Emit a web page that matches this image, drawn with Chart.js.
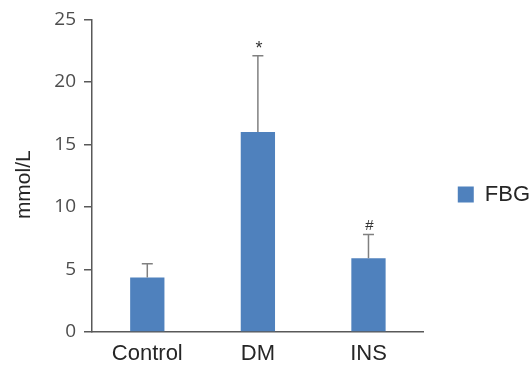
<!DOCTYPE html>
<html>
<head>
<meta charset="utf-8">
<script src="https://cdn.jsdelivr.net/npm/chart.js@4"></script>
<style>
body { margin: 0; background: #fff; }
</style>
</head>
<body>
<canvas id="bar-chart" width="530" height="374"></canvas>
<script>
var groups = ["Control", "DM", "INS"]
var fbg = [4.35, 16.0, 5.9]
var fbg_sd = [1.1, 6.1, 1.9]
var marks = ["", "*", "#"]
var y_ticks = [0, 5, 10, 15, 20, 25]
var y_title = "mmol/L"

var textFont = '"Liberation Sans", Arial, sans-serif'

// error bars + significance marks on top of the bars, y title a bit below centre
var errorBars = {
    id: 'errorBars',
    afterDatasetsDraw: function (chart) {
        var ctx = chart.ctx;
        var meta = chart.getDatasetMeta(0);
        var y = chart.scales.y;
        ctx.save();
        for (var i = 0; i < meta.data.length; i++) {
            var bar = meta.data[i];
            var top = y.getPixelForValue(fbg[i] + fbg_sd[i]);
            ctx.strokeStyle = '#808080';
            ctx.lineWidth = 1.5;
            ctx.beginPath();
            ctx.moveTo(bar.x, bar.y);
            ctx.lineTo(bar.x, top);
            ctx.moveTo(bar.x - 5.5, top);
            ctx.lineTo(bar.x + 5.5, top);
            ctx.stroke();
            if (marks[i]) {
                ctx.fillStyle = '#333';
                ctx.font = (marks[i] == '*' ? '18px ' : '15px ') + textFont;
                ctx.textAlign = 'center';
                ctx.textBaseline = 'bottom';
                ctx.fillText(marks[i], bar.x + 1, marks[i] == '*' ? top + 2 : top - 1);
            }
        }
        ctx.translate(24, (chart.chartArea.top + chart.chartArea.bottom) / 2 + 9);
        ctx.rotate(-Math.PI / 2);
        ctx.fillStyle = '#262626';
        ctx.font = '21px ' + textFont;
        ctx.textAlign = 'center';
        ctx.textBaseline = 'middle';
        ctx.fillText(y_title, 0, 0);
        ctx.restore();
    }
};

new Chart(document.getElementById("bar-chart"), {
    type: 'bar',
    data: {
        labels: groups,
        datasets: [{
            label: "FBG",
            data: fbg,
            backgroundColor: "#4f81bd",
            barPercentage: 0.62,
            categoryPercentage: 0.5
        }]
    },
    options: {
        responsive: false,
        animation: false,
        layout: { padding: { top: 15, right: -10 } },
        plugins: {
            legend: {
                position: 'right',
                labels: {
                    boxWidth: 16,
                    boxHeight: 16,
                    padding: 34,
                    color: '#262626',
                    font: { family: textFont, size: 22 }
                }
            },
            tooltip: { enabled: false }
        },
        scales: {
            x: {
                grid: { display: false, drawTicks: false },
                border: { color: '#595959', width: 1.5 },
                ticks: {
                    color: '#262626',
                    padding: 9,
                    font: { family: textFont, size: 22 }
                },
                afterFit: function (s) { s.height = 42; }
            },
            y: {
                min: 0,
                max: 25,
                afterBuildTicks: function (s) {
                    s.ticks = y_ticks.map(function (v) { return { value: v }; });
                },
                grid: { drawOnChartArea: false, tickLength: 8, color: '#595959', lineWidth: 1.5 },
                border: { color: '#595959', width: 1.5 },
                ticks: {
                    color: '#4d4d4d',
                    padding: 8,
                    font: { family: '"Open Sans", sans-serif', size: 19 }
                },
                afterFit: function (s) { s.width = 92; }
            }
        }
    },
    plugins: [errorBars]
});
</script>
</body>
</html>
